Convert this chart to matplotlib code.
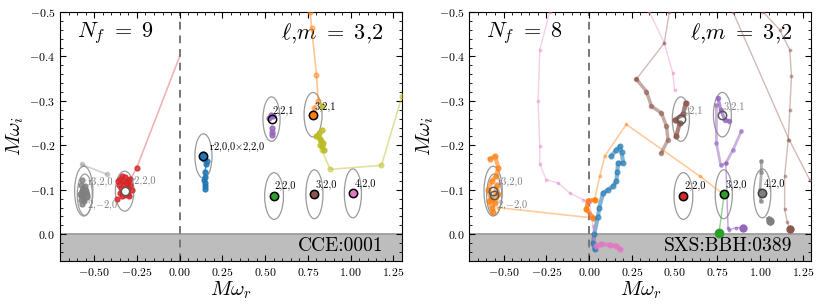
import matplotlib.pyplot as plt
from matplotlib.patches import Ellipse

plt.rcParams.update({
    "font.family": "serif",
    "font.serif": ["cmr10", "DejaVu Serif"],
    "mathtext.fontset": "cm",
    "axes.formatter.use_mathtext": True,
    "axes.unicode_minus": True,
    "xtick.direction": "in",
    "ytick.direction": "in",
    "xtick.top": True,
    "ytick.right": True,
    "xtick.minor.visible": True,
    "ytick.minor.visible": True,
    "xtick.labelsize": 8.5,
    "ytick.labelsize": 8.5,
})

# ---- QNM positions (shared) ----
mode_names = ["2,2,0", "3,2,0", "4,2,0", "2,2,1", "3,2,1",
              r"r2,0,0$\times$2,2,0", "r3,2,0", r"2,$-$2,0", "r2,2,0"]
mode_re = [0.552, 0.788, 1.013, 0.537, 0.780, 0.139, -0.561, -0.555, -0.322]
mode_im = [-0.086, -0.090, -0.092, -0.259, -0.269, -0.176, -0.097, -0.089, -0.097]
ell_w = [0.11, 0.10, 0.10, 0.10, 0.105, 0.10, 0.107, 0.088, 0.108]
ell_h = [0.105, 0.11, 0.11, 0.10, 0.10, 0.10, 0.112, 0.093, 0.09]
lab_dx = [0.005, 0.008, 0.008, 0.005, 0.008, 0.03, 0.025, 0.015, 0.035]
lab_dy = [-0.022, -0.022, -0.022, -0.018, -0.018, -0.02, -0.02, 0.023, -0.022]

# ---- left panel (CCE:0001, N_f = 9) ----
left_modes = [0, 1, 2, 3, 4, 5, 6, 7, 8]
left_face = ["tab:green", "tab:brown", "tab:pink", "none", "tab:orange",
             "tab:blue", "none", "none", "white"]
left_edge = ["k", "k", "k", "k", "k", "k", "0.5", "0.5", "0.35"]
left_lab_col = ["k", "k", "k", "k", "k", "k", "0.5", "0.5", "0.5"]

gray_line_re = [-0.573, -0.426]
gray_line_im = [-0.157, -0.135]
gray_re = [-0.573, -0.58, -0.565, -0.57, -0.555, -0.56, -0.575, -0.55, -0.565,
           -0.58, -0.545, -0.56, -0.57, -0.555, -0.585, -0.56, -0.572]
gray_im = [-0.123, -0.11, -0.105, -0.098, -0.10, -0.09, -0.085, -0.092, -0.08,
           -0.078, -0.083, -0.075, -0.095, -0.108, -0.09, -0.082, -0.068]
red_re = [-0.36, -0.35, -0.34, -0.33, -0.32, -0.31, -0.30, -0.29, -0.28, -0.345,
          -0.335, -0.315, -0.305, -0.295, -0.355, -0.325, -0.30, -0.365, -0.34,
          -0.31, -0.29, -0.35, -0.32]
red_im = [-0.12, -0.125, -0.13, -0.12, -0.128, -0.115, -0.122, -0.11, -0.10,
          -0.105, -0.095, -0.10, -0.09, -0.085, -0.11, -0.112, -0.105, -0.08,
          -0.085, -0.118, -0.125, -0.092, -0.088]
red_line_re = [-0.30, -0.251, 0.0]
red_line_im = [-0.115, -0.150, -0.40]
blue_re = [0.135, 0.139, 0.145, 0.16, 0.155, 0.148, 0.146, 0.145, 0.146, 0.148, 0.15]
blue_im = [-0.18, -0.176, -0.17, -0.165, -0.158, -0.14, -0.128, -0.122, -0.115, -0.108, -0.102]
purple_re = [0.525, 0.532, 0.545, 0.54, 0.538, 0.541]
purple_im = [-0.262, -0.268, -0.266, -0.24, -0.23, -0.224]
orange_re = [0.763, 0.772, 0.80, 0.81, 0.786, 0.782, 0.776]
orange_im = [-0.50, -0.463, -0.359, -0.299, -0.285, -0.272, -0.265]
olive_re = [0.83, 0.832, 0.815, 0.80, 0.818, 0.825, 0.84, 0.835, 0.842, 0.81, 0.822]
olive_im = [-0.288, -0.235, -0.228, -0.222, -0.215, -0.21, -0.205, -0.198, -0.19, -0.22, -0.20]
olive_line_re = [0.83, 0.88, 1.18, 1.30]
olive_line_im = [-0.19, -0.146, -0.155, -0.31]

# ---- right panel (SXS:BBH:0389, N_f = 8) ----
right_modes = [0, 1, 2, 3, 4, 6, 7]
right_face = ["tab:red", "tab:green", "tab:gray", "none", "none", "none", "none"]
right_edge = ["k", "k", "0.25", "0.35", "0.35", "0.35", "0.35"]
right_lab_col = ["k", "k", "k", "0.5", "0.5", "0.5", "0.5"]

# (color, re, im, linewidth, alpha)
right_tracks = [
    ("tab:orange", [-0.58, -0.55, -0.53, -0.545, -0.57, -0.59, -0.575, -0.55, -0.53,
                    -0.54, -0.565, -0.585, -0.56],
     [-0.17, -0.175, -0.15, -0.13, -0.12, -0.10, -0.08, -0.07, -0.09, -0.11, -0.06,
      -0.075, -0.05], 3.0, 0.6),
    ("tab:orange", [-0.532, 0.014], [-0.06, -0.037], 1.2, 0.4),
    ("tab:orange", [0.025, -0.015, -0.006, 0.033], [-0.037, -0.056, -0.075, -0.078], 3.0, 0.8),
    ("tab:orange", [0.033, 0.063, 0.092, 0.218, 0.647, 0.79],
     [-0.078, -0.131, -0.176, -0.247, -0.131, -0.089], 1.2, 0.4),
    ("tab:blue", [0.033, 0.023, 0.03, 0.051, 0.06, 0.082, 0.11, 0.14, 0.16, 0.165, 0.17,
                  0.20, 0.19, 0.18, 0.16, 0.13],
     [0.034, 0.02, 0.0, -0.038, -0.06, -0.093, -0.10, -0.108, -0.12, -0.14, -0.161,
      -0.16, -0.185, -0.198, -0.19, -0.176], 3.0, 0.55),
    ("tab:pink", [-0.23, -0.288, -0.298, -0.288, -0.288, -0.25, -0.18, -0.113, -0.035,
                  0.004, 0.023, 0.03],
     [-0.50, -0.415, -0.30, -0.198, -0.157, -0.123, -0.115, -0.093, -0.078, -0.072,
      -0.019, 0.01], 1.0, 0.35),
    ("tab:pink", [0.353, 0.44, 0.49, 0.50], [-0.50, -0.43, -0.363, -0.325], 1.0, 0.35),
    ("tab:pink", [0.043, 0.07, 0.12, 0.16, 0.18], [0.026, 0.022, 0.024, 0.026, 0.033], 3.0, 0.7),
    ("tab:brown", [0.47, 0.44, 0.277], [-0.50, -0.43, -0.349], 1.0, 0.4),
    ("tab:brown", [0.277, 0.336, 0.365, 0.423, 0.453, 0.462, 0.423],
     [-0.349, -0.321, -0.288, -0.273, -0.243, -0.213, -0.183], 2.5, 0.5),
    ("tab:brown", [0.565, 0.55, 0.50, 0.53, 0.51], [-0.295, -0.27, -0.257, -0.25, -0.22], 3.0, 0.75),
    ("tab:brown", [0.842, 1.17, 1.29], [-0.50, -0.213, -0.123], 1.0, 0.4),
    ("tab:brown", [1.018, 1.115, 1.174, 1.184, 1.174, 1.165, 1.144, 1.144, 1.16, 1.174],
     [-0.50, -0.46, -0.415, -0.355, -0.28, -0.213, -0.131, -0.056, -0.027, -0.011], 1.0, 0.4),
    ("tab:purple", [0.754, 0.77, 0.794, 0.82], [-0.306, -0.28, -0.258, -0.255], 2.5, 0.7),
    ("tab:purple", [0.745, 0.745, 0.77, 0.80, 0.842, 0.891],
     [-0.29, -0.205, -0.155, -0.16, -0.19, -0.232], 2.0, 0.5),
    ("tab:purple", [0.80, 0.813, 0.82, 0.86, 0.90], [-0.16, -0.015, -0.01, -0.015, -0.015], 1.0, 0.6),
    ("tab:green", [0.79, 0.76], [-0.089, -0.003], 1.0, 0.5),
    ("tab:gray", [1.008, 1.008, 1.0, 1.004], [-0.164, -0.14, -0.10, -0.075], 2.0, 0.6),
    ("tab:gray", [1.05, 1.06], [-0.035, -0.028], 3.0, 0.8),
]
right_points = [("tab:green", 0.76, -0.003, 6), ("tab:purple", 0.90, -0.015, 5),
                ("tab:gray", 1.057, -0.03, 5), ("tab:brown", 1.174, -0.011, 5)]


def setup_axes(ax, nf, label):
    ax.set_xlim(-0.7, 1.3)
    ax.set_ylim(0.06, -0.5)
    ax.axhspan(0, 0.06, color="#bdbdbd", zorder=0)
    ax.axhline(0, color="#999999", lw=1.2, zorder=0.5)
    ax.axvline(0, color="#777777", lw=1.4, ls=(0, (4, 3)), zorder=0.5)
    ax.set_xticks([-0.5, -0.25, 0, 0.25, 0.5, 0.75, 1.0, 1.25])
    ax.set_yticks([-0.5, -0.4, -0.3, -0.2, -0.1, 0.0])
    ax.xaxis.set_major_formatter(plt.FuncFormatter(lambda v, p: f"${v:.2f}$"))
    ax.yaxis.set_major_formatter(plt.FuncFormatter(lambda v, p: f"${v:.1f}$"))
    ax.xaxis.set_minor_locator(plt.MultipleLocator(0.05))
    ax.yaxis.set_minor_locator(plt.MultipleLocator(0.02))
    ax.tick_params(which="major", length=4, width=0.8)
    ax.tick_params(which="minor", length=2, width=0.6)
    ax.set_xlabel(r"$M\omega_r$", fontsize=15, labelpad=1)
    ax.set_ylabel(r"$M\omega_i$", fontsize=15, labelpad=2)
    ax.text(0.05, 0.915, rf"$N_f\ =\ {nf}$", transform=ax.transAxes,
            fontsize=16, va="center", ha="left")
    ax.text(0.945, 0.915, r"$\ell$,$m\ =\ 3$,$2$", transform=ax.transAxes,
            fontsize=16, va="center", ha="right")
    ax.text(0.945, 0.06, label, transform=ax.transAxes,
            fontsize=14, va="center", ha="right")


def draw_modes(ax, idx, faces, edges, labcols):
    for k, i in enumerate(idx):
        ax.add_patch(Ellipse((mode_re[i], mode_im[i]), ell_w[i], ell_h[i],
                             fill=False, ec="#9a9a9a", lw=0.9, zorder=2))
        ax.plot(mode_re[i], mode_im[i], "o", ms=6, mfc=faces[k], mec=edges[k],
                mew=1.1, zorder=6)
        ax.text(mode_re[i] + lab_dx[i], mode_im[i] + lab_dy[i], mode_names[i],
                fontsize=7.5, color=labcols[k], ha="left", va="center", zorder=7)


fig = plt.figure(figsize=(8.22, 3.07), dpi=100)
ax1 = fig.add_axes([0.073, 0.150, 0.416, 0.811])
ax2 = fig.add_axes([0.571, 0.150, 0.416, 0.811])

# left panel
setup_axes(ax1, 9, "CCE:0001")
ax1.plot(gray_line_re, gray_line_im, "-o", color="tab:gray", ms=3, lw=1.2, alpha=0.35, zorder=3)
ax1.plot(gray_re, gray_im, "o", color="tab:gray", ms=3.5, alpha=0.8, zorder=3)
ax1.plot(red_line_re, red_line_im, "-", color="tab:red", lw=1.2, alpha=0.35, zorder=3)
ax1.plot(red_line_re[:2], red_line_im[:2], "o", color="tab:red", ms=3.5, alpha=0.8, zorder=3)
ax1.plot(red_re, red_im, "o", color="tab:red", ms=3.5, alpha=0.85, zorder=3)
ax1.plot(blue_re, blue_im, "-o", color="tab:blue", ms=3.5, lw=1, alpha=0.85, zorder=3)
ax1.plot(purple_re, purple_im, "o", color="tab:purple", ms=3.5, alpha=0.85, zorder=3)
ax1.plot(orange_re, orange_im, "-o", color="tab:orange", ms=3.5, lw=1.2, alpha=0.45, zorder=3)
ax1.plot(olive_re, olive_im, "o", color="tab:olive", ms=3.5, alpha=0.85, zorder=3)
ax1.plot(olive_line_re, olive_line_im, "-o", color="tab:olive", ms=3.5, lw=1.2, alpha=0.45, zorder=3)
draw_modes(ax1, left_modes, left_face, left_edge, left_lab_col)

# right panel
setup_axes(ax2, 8, "SXS:BBH:0389")
for col, re, im, lw, al in right_tracks:
    ms = 1.8 if lw < 1.5 else lw + 0.5
    ax2.plot(re, im, "-o", color=col, lw=lw, ms=ms, alpha=al, zorder=3)
for col, re, im, ms in right_points:
    ax2.plot(re, im, "o", color=col, ms=ms, zorder=4)
draw_modes(ax2, right_modes, right_face, right_edge, right_lab_col)

fig.savefig("out.png", dpi=100)
